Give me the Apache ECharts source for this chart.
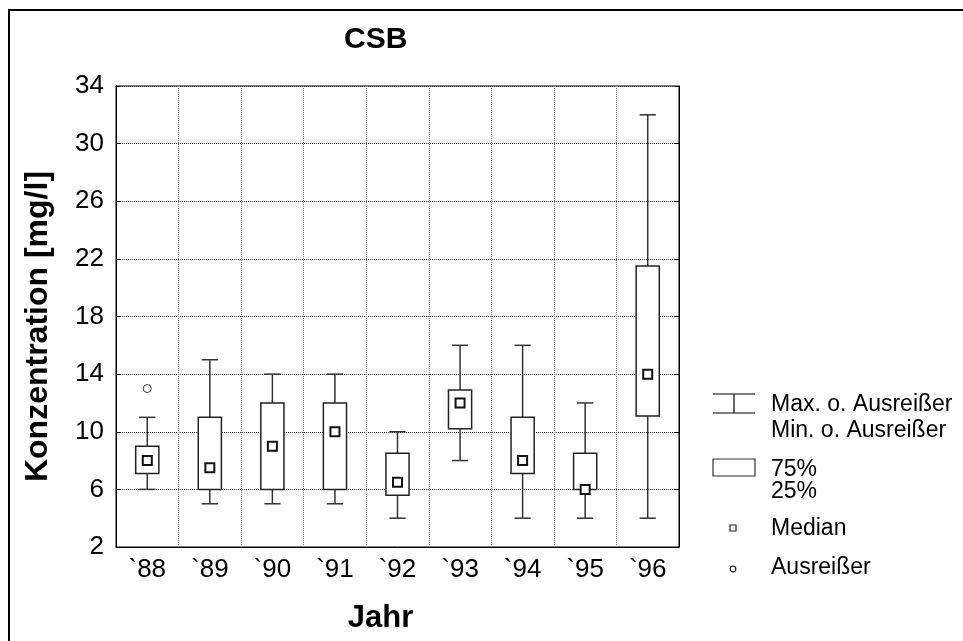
<!DOCTYPE html>
<html>
<head>
<meta charset="utf-8">
<script src="https://cdn.jsdelivr.net/npm/echarts@6/dist/echarts.min.js"></script>
<style>
html,body{margin:0;padding:0;background:#fff;}
#chart{width:963px;height:641px;}
</style>
</head>
<body>
<div id="chart"></div>
<script>
var categories = ['`88', '`89', '`90', '`91', '`92', '`93', '`94', '`95', '`96'];
var minVals    = [6, 5, 5, 5, 4, 8, 4, 4, 4];
var q1Vals     = [7.1, 6, 6, 6, 5.6, 10.2, 7.1, 6, 11.1];
var medianVals = [8, 7.5, 9, 10, 6.5, 12, 8, 6, 14];
var q3Vals     = [9, 11, 12, 12, 8.5, 12.9, 11, 8.5, 21.5];
var maxVals    = [11, 15, 14, 14, 10, 16, 16, 12, 32];
var outlierCats = ['`88'];
var outlierVals = [13];
var yTicks = [2, 6, 10, 14, 18, 22, 26, 30, 34];

var FONT = '"Liberation Sans", Arial, sans-serif';

var boxData = categories.map(function (c, i) {
  return [i, minVals[i], q1Vals[i], q3Vals[i], maxVals[i]];
});
var medianData = categories.map(function (c, i) { return [c, medianVals[i]]; });
var outlierData = outlierCats.map(function (c, i) { return [c, outlierVals[i]]; });

function renderBox(params, api) {
  var idx = api.value(0);
  var pMin = api.coord([idx, api.value(1)]);
  var pQ1 = api.coord([idx, api.value(2)]);
  var pQ3 = api.coord([idx, api.value(3)]);
  var pMax = api.coord([idx, api.value(4)]);
  var band = api.size([1, 0])[0];
  var bw = band * 0.37;
  var cw = band * 0.26;
  var x = pMin[0];
  var ws = { stroke: '#333', lineWidth: 1.5 };
  return {
    type: 'group',
    children: [
      { type: 'line', shape: { x1: x, y1: pMax[1], x2: x, y2: pQ3[1] }, style: ws },
      { type: 'line', shape: { x1: x, y1: pQ1[1], x2: x, y2: pMin[1] }, style: ws },
      { type: 'line', shape: { x1: x - cw / 2, y1: pMax[1], x2: x + cw / 2, y2: pMax[1] }, style: ws },
      { type: 'line', shape: { x1: x - cw / 2, y1: pMin[1], x2: x + cw / 2, y2: pMin[1] }, style: ws },
      { type: 'rect', shape: { x: x - bw / 2, y: pQ3[1], width: bw, height: pQ1[1] - pQ3[1] },
        style: { fill: '#fff', stroke: '#222', lineWidth: 1.5 } }
    ]
  };
}

var chart = echarts.init(document.getElementById('chart'));
var legendText = { fill: '#000', font: '23px ' + FONT, verticalAlign: 'middle', align: 'left' };
var option = {
  backgroundColor: '#fff',
  animation: false,
  title: {
    text: 'CSB',
    left: 344,
    top: 25,
    padding: 0,
    textStyle: { fontFamily: FONT, fontSize: 30, fontWeight: 'bold', color: '#000' }
  },
  grid: {
    left: 116, top: 86, width: 563, height: 461,
    show: true, borderColor: '#000', borderWidth: 1, backgroundColor: 'transparent'
  },
  xAxis: {
    type: 'category',
    data: categories,
    boundaryGap: true,
    name: 'Jahr',
    nameLocation: 'middle',
    nameGap: 56,
    nameTextStyle: { fontFamily: FONT, fontSize: 31, fontWeight: 'bold', color: '#000', padding: [0, 34, 0, 0] },
    axisLine: { lineStyle: { color: '#000', width: 1 } },
    axisTick: { inside: true, length: 4, lineStyle: { color: '#000' } },
    axisLabel: { fontFamily: FONT, fontSize: 26, color: '#000', margin: 10 },
    splitLine: { show: true, lineStyle: { color: '#888', type: 'dotted', width: 1 } }
  },
  yAxis: [{
    type: 'value',
    min: 2, max: 34, interval: 4,
    name: 'Konzentration [mg/l]',
    nameLocation: 'middle',
    nameGap: 62,
    nameTextStyle: { fontFamily: FONT, fontSize: 32, fontWeight: 'bold', color: '#000', padding: [0, 20, 0, 0] },
    axisLine: { show: true, lineStyle: { color: '#000', width: 1 } },
    axisTick: { show: true, inside: true, length: 4, lineStyle: { color: '#000' } },
    axisLabel: { fontFamily: FONT, fontSize: 26, color: '#000', margin: 12 },
    splitLine: { show: true, lineStyle: { color: '#333', type: 'dotted', width: 1 } }
  }, {
    type: 'value',
    position: 'right',
    min: 2, max: 34, interval: 4,
    axisLine: { show: true, lineStyle: { color: '#000', width: 1 } },
    axisTick: { show: true, inside: true, length: 4, lineStyle: { color: '#000' } },
    axisLabel: { show: false },
    splitLine: { show: false }
  }],
  graphic: [
    { type: 'rect', shape: { x: 9, y: 10, width: 980, height: 660 }, style: { fill: 'none', stroke: '#000', lineWidth: 2 }, z: 100 },
    { type: 'line', shape: { x1: 713, y1: 394, x2: 755, y2: 394 }, style: { stroke: '#555', lineWidth: 1.5 } },
    { type: 'line', shape: { x1: 713, y1: 413, x2: 755, y2: 413 }, style: { stroke: '#555', lineWidth: 1.5 } },
    { type: 'line', shape: { x1: 734, y1: 394, x2: 734, y2: 413 }, style: { stroke: '#333', lineWidth: 1.5 } },
    { type: 'text', x: 771, y: 405, style: Object.assign({ text: 'Max. o. Ausreißer' }, legendText) },
    { type: 'text', x: 771, y: 431, style: Object.assign({ text: 'Min. o. Ausreißer' }, legendText) },
    { type: 'rect', shape: { x: 713, y: 459, width: 42, height: 17 }, style: { fill: '#fff', stroke: '#333', lineWidth: 1.2 } },
    { type: 'text', x: 771, y: 470, style: Object.assign({ text: '75%' }, legendText) },
    { type: 'text', x: 771, y: 492, style: Object.assign({ text: '25%' }, legendText) },
    { type: 'rect', shape: { x: 730, y: 525, width: 6, height: 6 }, style: { fill: '#fff', stroke: '#222', lineWidth: 1.2 } },
    { type: 'text', x: 771, y: 529, style: Object.assign({ text: 'Median' }, legendText) },
    { type: 'circle', shape: { cx: 733, cy: 569, r: 2.8 }, style: { fill: '#fff', stroke: '#222', lineWidth: 1.2 } },
    { type: 'text', x: 771, y: 568, style: Object.assign({ text: 'Ausreißer' }, legendText) }
  ],
  series: [
    {
      type: 'custom',
      name: 'Box',
      renderItem: renderBox,
      encode: { x: 0, y: [1, 2, 3, 4] },
      data: boxData,
      z: 2
    },
    {
      type: 'scatter',
      name: 'Median',
      data: medianData,
      symbol: 'rect',
      symbolSize: 9,
      itemStyle: { color: '#fff', borderColor: '#111', borderWidth: 2, opacity: 1 },
      z: 3
    },
    {
      type: 'scatter',
      name: 'Ausreißer',
      data: outlierData,
      symbol: 'circle',
      symbolSize: 8,
      itemStyle: { color: '#fff', borderColor: '#333', borderWidth: 1, opacity: 1 },
      z: 3
    }
  ]
};
chart.setOption(option);
</script>
</body>
</html>
